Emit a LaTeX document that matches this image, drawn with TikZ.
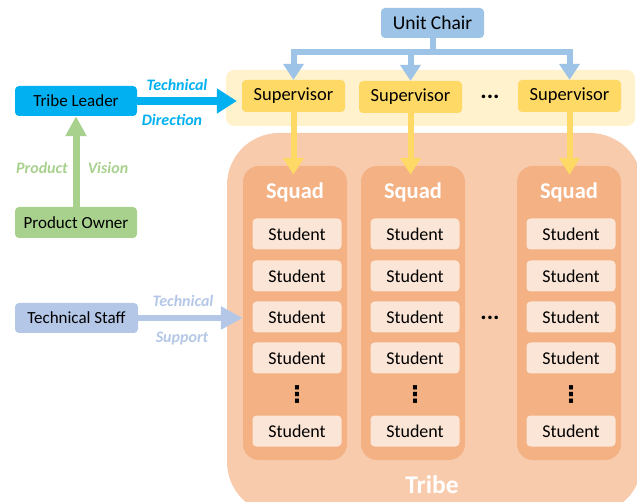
\documentclass[tikz,border=0pt]{standalone}
\usepackage{fontspec}
\setmainfont{Carlito}
\newfontfamily\symbolfont{DejaVu Sans}
\usepackage{tikz}
\usetikzlibrary{arrows.meta}
\definecolor{chairblue}{RGB}{157, 195, 230}
\definecolor{supyellow}{RGB}{255, 217, 102}
\definecolor{bandyellow}{RGB}{255, 242, 204}
\definecolor{leadblue}{RGB}{0, 176, 240}
\definecolor{ownergreen}{RGB}{169, 209, 142}
\definecolor{staffblue}{RGB}{180, 199, 231}
\definecolor{tribepeach}{RGB}{248, 203, 173}
\definecolor{squadorange}{RGB}{244, 177, 131}
\definecolor{studpeach}{RGB}{251, 229, 214}

\begin{document}
\begin{tikzpicture}[x=1pt, y=-1pt,
  box/.style={rounded corners=4pt, inner sep=0pt, minimum height=31pt},
  rolebox/.style={box, minimum width=122pt, font=\fontsize{17}{17}\selectfont},
  supbox/.style={box, fill=supyellow, minimum width=103pt, minimum height=32pt,
                 font=\fontsize{18.5}{18.5}\selectfont},
  squadbox/.style={fill=squadorange, rounded corners=16pt, inner sep=0pt,
                   minimum width=104pt, minimum height=294pt},
  studbox/.style={box, fill=studpeach, minimum width=89pt,
                  font=\fontsize{18}{18}\selectfont},
  flowlabel/.style={font=\fontsize{16}{16}\selectfont\bfseries\itshape},
  whitehead/.style={text=white, font=\fontsize{22.5}{22.5}\selectfont\bfseries},
  dotsnode/.style={inner sep=0pt, font=\fontsize{24}{24}\selectfont\bfseries},
  vdotsnode/.style={inner sep=0pt, font=\fontsize{23}{23}\selectfont\symbolfont\bfseries},
]
  \clip (0,0) rectangle (637,502);

  %--- tribe and supervisor band ---
  \fill[tribepeach, rounded corners=52pt] (227,133) rectangle (642,514);
  \fill[bandyellow, rounded corners=8pt] (226,70) rectangle (635,126);
  \node[whitehead, font=\fontsize{25.5}{25.5}\selectfont\bfseries] (tribe) at (432,485) {Tribe};

  %--- squads with their students ---
  \foreach \i/\x in {1/295, 2/413, 3/569} {
    \node[squadbox] (squad\i) at (\x,313) {};
    \node[whitehead] (title\i) at (\x,192) {Squad};
    \foreach \j/\y in {1/234, 2/276, 3/317, 4/358, 5/431}
      \node[studbox] (stud\i\j) at (\x+2,\y) {Student};
    \node[vdotsnode] (vdots\i) at (\x+2,395) {⋮};
  }
  \node[dotsnode] (hdots2) at (490,318) {...};

  %--- unit chair and supervisors ---
  \node[box, fill=chairblue, minimum width=103pt, minimum height=30pt,
        font=\fontsize{19.5}{19.5}\selectfont] (chair) at (432.5,23) {Unit Chair};
  \node[supbox] (sup1) at (293.5,96) {Supervisor};
  \node[supbox] (sup2) at (410.5,97) {Supervisor};
  \node[supbox] (sup3) at (569.5,96) {Supervisor};
  \node[dotsnode] (hdots1) at (490,97) {...};

  %--- roles on the left ---
  \node[rolebox, fill=leadblue, minimum height=30pt] (lead) at (76,101) {Tribe Leader};
  \node[rolebox, fill=ownergreen] (owner) at (76,222.5) {Product Owner};
  \node[rolebox, fill=staffblue, minimum width=123pt, minimum height=30pt] (staff) at (76.5,318) {Technical Staff};

  %--- unit chair to supervisors ---
  \coordinate (bus) at (432.5,52);
  \foreach \s in {sup1, sup2, sup3}
    \draw[chairblue, line width=6pt, -{Triangle[width=20pt, length=16pt]}]
      (chair.south) -- (bus) -| (\s.north);

  %--- supervisors to squads ---
  \foreach \i in {1, 2, 3}
    \draw[supyellow, line width=6pt, -{Triangle[width=20pt, length=17pt]}, shorten >=-9pt]
      (sup\i.south) -- (sup\i.south |- squad\i.north);

  %--- technical direction ---
  \draw[leadblue, line width=8pt, -{Triangle[width=24pt, length=20pt]}, shorten >=5pt]
    (lead.east) -- (lead.east -| sup1.west);
  \node[flowlabel, text=leadblue] (techA) at (177,85) {Technical};
  \node[flowlabel, text=leadblue] (dir) at (172,120) {Direction};

  %--- product vision ---
  \draw[ownergreen, line width=7pt, -{Triangle[width=20pt, length=20pt]}]
    (owner.north) -- (lead.south);
  \node[flowlabel, text=ownergreen] (prod) at (42,168) {Product};
  \node[flowlabel, text=ownergreen] (vis) at (108,168) {Vision};

  %--- technical support ---
  \draw[staffblue, line width=6pt, -{Triangle[width=22pt, length=22pt]}]
    (staff.east) -- (staff.east -| squad1.west);
  \node[flowlabel, text=staffblue] (techB) at (183,301) {Technical};
  \node[flowlabel, text=staffblue] (sup) at (182,339) {Support};
\end{tikzpicture}
\end{document}
